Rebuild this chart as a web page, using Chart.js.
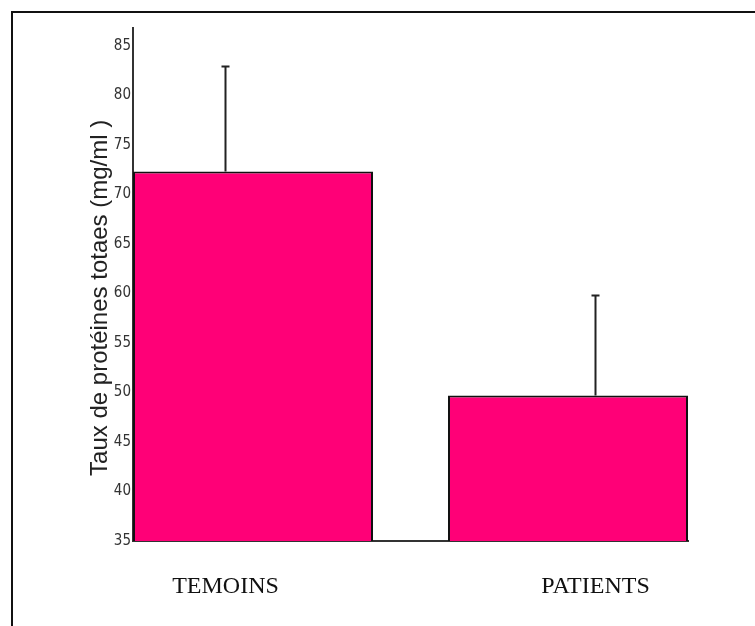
<!DOCTYPE html>
<html>
<head>
<meta charset="utf-8">
<script src="https://cdn.jsdelivr.net/npm/chart.js@4/dist/chart.umd.min.js"></script>
<style>
    html, body { margin: 0; padding: 0; background: #fff; }
    .frame {
        position: absolute; left: 11px; top: 11px;
        width: 800px; height: 700px;
        border-left: 2px solid #111; border-top: 2px solid #111;
    }
    #proteinChart { position: absolute; left: 0; top: 0; }
</style>
</head>
<body>
<div class="frame"></div>
<canvas id="proteinChart" width="755" height="626"></canvas>
<script>
// groupes et taux de protéines (moyenne + écart-type)
const groups = ['TEMOINS', 'PATIENTS'];
const meanValues = [72.3, 49.7];
const sdValues = [10.6, 10.1];
const yMin = 35;
const yMax = 86.8;
const yStep = 5;

// group index on a linear x axis, one dataset per group
const points = groups.map((g, i) => ({ x: i, y: meanValues[i] }));

// draws the upper error bar at each group position
const errorBarPlugin = {
    id: 'errorBars',
    afterDatasetsDraw(chart) {
        const { ctx } = chart;
        const xScale = chart.scales.x;
        const yScale = chart.scales.y;
        ctx.save();
        ctx.strokeStyle = '#222';
        ctx.lineWidth = 2;
        points.forEach((p, i) => {
            const x = xScale.getPixelForValue(p.x);
            const base = yScale.getPixelForValue(meanValues[i]);
            const top = yScale.getPixelForValue(meanValues[i] + sdValues[i]);
            ctx.beginPath();
            ctx.moveTo(x, base);
            ctx.lineTo(x, top);
            ctx.moveTo(x - 4, top);
            ctx.lineTo(x + 4, top);
            ctx.stroke();
        });
        ctx.restore();
    }
};

const barStyle = {
    backgroundColor: '#FF0077',
    borderColor: '#111',
    borderWidth: 2,
    borderSkipped: false,
    categoryPercentage: 0.2973,
    barPercentage: 4.364,
};

new Chart(document.getElementById('proteinChart'), {
    type: 'bar',
    data: {
        datasets: [
            // patients first: its bar takes the left slot, temoins the right one
            { label: groups[1], data: [points[1]], ...barStyle },
            { label: groups[0], data: [points[0]], ...barStyle },
        ]
    },
    options: {
        responsive: false,
        animation: false,
        devicePixelRatio: 1,
        layout: { padding: { left: 86, right: 67, top: 28, bottom: 0 } },
        plugins: { legend: { display: false }, tooltip: { enabled: false } },
        scales: {
            x: {
                type: 'linear',
                min: -0.25,
                max: 1.25,
                offset: false,
                grid: { display: false, drawTicks: false, offset: false },
                border: { display: true, color: '#333', width: 2 },
                ticks: {
                    stepSize: 1,
                    includeBounds: false,
                    color: '#111',
                    padding: 31,
                    font: { family: "'Liberation Serif', 'Times New Roman', serif", size: 24 },
                    callback: v => groups[v] ?? '',
                },
                afterFit: s => { s.height = 85; }
            },
            y: {
                min: yMin,
                max: yMax,
                grid: { display: false, drawTicks: false },
                border: { display: true, color: '#333', width: 2 },
                ticks: {
                    stepSize: yStep,
                    includeBounds: false,
                    padding: 2,
                    color: '#333',
                    font: { family: "'Liberation Sans Narrow', 'DejaVu Sans Condensed', Arial, sans-serif", size: 15 },
                },
                title: {
                    display: true,
                    // trailing spaces push the rotated title a little lower, as in the original
                    text: 'Taux de protéines totaes (mg/ml )    ',
                    color: '#222',
                    padding: 0,
                    font: { family: "'Liberation Sans', Arial, sans-serif", size: 24 },
                },
                afterFit: s => { s.width = 47; }
            }
        }
    },
    plugins: [errorBarPlugin]
});
</script>
</body>
</html>
